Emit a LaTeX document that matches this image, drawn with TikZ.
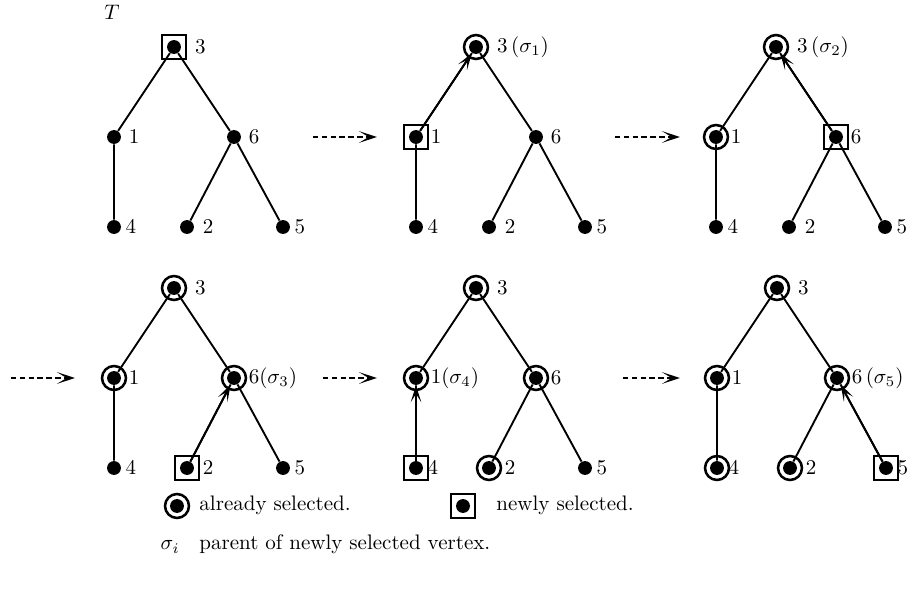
\documentclass[tikz,border=0pt]{standalone}
\usepackage{amsmath}
\usetikzlibrary{arrows.meta,positioning}

\tikzset{
  vtx/.style={circle,fill=black,inner sep=0pt,minimum size=6.6pt},
  oldsel/.style={circle,draw,line width=1.2pt,inner sep=0pt,minimum size=11.4pt},
  newsel/.style={rectangle,draw,line width=1pt,inner sep=0pt,minimum size=11.4pt},
  treeedge/.style={line width=0.9pt},
  toparent/.style={line width=0.9pt,-{Stealth[length=8pt,width=5pt,inset=4pt]}},
  nextstep/.style={line width=1pt,dash pattern=on 2.6pt off 1.6pt,-{Stealth[length=8.5pt,width=5.5pt,inset=4.5pt]}},
  lbl/.style={inner sep=3.33pt}
}

\begin{document}
\begin{tikzpicture}[x=0.476pt,y=-0.476pt]
\useasboundingbox (0,0) rectangle (919,593);

% name/root x/root y/new/old ones/child/parent/parent label
\def\trees{a/174/47/3/0/0/3/{},
 b/476/47/1/3/1/3/{$3\,(\sigma_1)$},
 c/776/47/6/{3,1}/6/3/{$3\,(\sigma_2)$},
 d/174/288/2/{3,1,6}/2/6/{$6(\sigma_3)$},
 e/476/288/4/{3,1,6,2}/4/1/{$1(\sigma_4)$},
 f/777/288/5/{3,1,6,2,4}/5/6/{$6\,(\sigma_5)$}}

\node (tname) at (112,12) {$T$};

\foreach \k/\dx/\dy/\nw/\old/\c/\p/\ls in \trees
{
\begin{scope}[shift={(\dx,\dy)}]
  % the vertices
  \foreach \v/\x/\y/\d in {3/0/0/3pt,1/-60/90/0pt,6/60/90/0pt,4/-60/180/-1.5pt,2/13/180/0.5pt,5/109/180/-1.5pt}
  {
    \def\txt{$\v$}
    \ifnum\c>0 \ifnum\v=\p \def\txt{\ls}\fi\fi
    \node[vtx,label={[lbl,label distance=\d]right:\txt}] (\k\v) at (\x,\y) {};
  }
  % the edges
  \draw[treeedge] (\k3) -- (\k1) (\k3) -- (\k6) (\k1) -- (\k4) (\k6) -- (\k2) (\k6) -- (\k5);
  \ifnum\c>0 \draw[toparent] (\k\c) -- (\k\p); \fi
  % selected ones
  \node[newsel] (\k n\nw) at (\k\nw) {};
  \foreach \o in \old
  {
    \ifnum\o>0 \node[oldsel] (\k m\o) at (\k\o) {}; \fi
  }
\end{scope}
}

% steps
\foreach \i/\xa/\xb/\y in {1/313/377/137,2/615/680/137,3/11/75/378,4/323/377/378,5/623/680/378}
{
  \coordinate (s\i a) at (\xa,\y);
  \coordinate (s\i b) at (\xb,\y);
  \draw[nextstep] (s\i a) -- (s\i b);
}

% legend
\node[vtx] (lold) at (177,506) {};
\node[oldsel] (loldm) at (lold) {};
\node[anchor=base west] (lolds) at (192,511) {already selected.};
\node[vtx] (lnew) at (463,506) {};
\node[newsel] (lnewm) at (lnew) {};
\node[anchor=base west] (lnews) at (489,511) {newly selected.};
\node[anchor=base] (lsig) at (170,550) {$\sigma_i$};
\node[anchor=base west] (lsigs) at (192,550) {parent of newly selected vertex.};

\end{tikzpicture}
\end{document}
